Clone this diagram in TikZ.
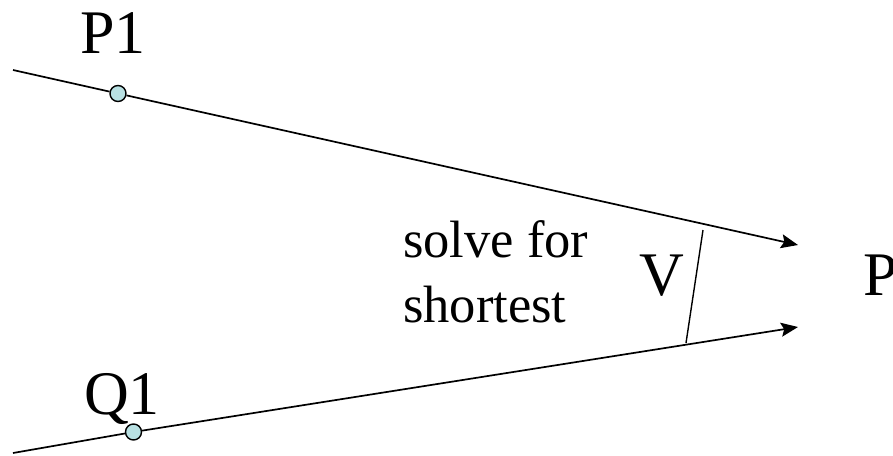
\documentclass[tikz,border=0pt]{standalone}
\usepackage{fontspec}
\setmainfont{Liberation Serif}
\usetikzlibrary{arrows.meta}
\definecolor{dotfill}{RGB}{184,224,226}
\tikzset{
  lbl/.style={inner sep=0pt,anchor=base west,font=\fontsize{62}{74}\selectfont},
  note/.style={inner sep=0pt,anchor=base west,font=\fontsize{52.5}{62}\selectfont},
  dot/.style={circle,draw,fill=dotfill,line width=1.4pt,minimum size=16pt,inner sep=0pt},
  ray/.style={line width=1.7pt},
}
\begin{document}
\begin{tikzpicture}[x=1pt,y=-1pt,>={Stealth[length=17pt,width=14pt,inset=3pt]}]
\useasboundingbox (0,0) rectangle (893,455);
% upper ray through P1
\coordinate (pstart) at (13,70);
\coordinate (ptip) at (798,245);
\node[dot] (p1) at (118,93.5){};
\draw[ray] (pstart)--(p1);
\draw[ray,->] (p1)--(ptip);
\node[lbl] (p1lbl) at (80,53){P1};
% lower ray through Q1
\coordinate (qstart) at (13,453);
\coordinate (qtip) at (798,327);
\node[dot] (q1) at (133.5,432){};
\draw[ray] (qstart)--(q1);
\draw[ray,->] (q1)--(qtip);
\node[lbl] (q1lbl) at (84,414){Q1};
% end point and connecting segment
\node[lbl] (plbl) at (863,295){P};
\coordinate (vtop) at (703,230);
\coordinate (vbot) at (686,343);
\draw[line width=1.4pt] (vtop)--(vbot);
\node[lbl] (vlbl) at (639,295){V};
\node[note] (solve) at (403,257){solve for};
\node[note] (shortest) at (403,322){shortest};
\end{tikzpicture}
\end{document}
